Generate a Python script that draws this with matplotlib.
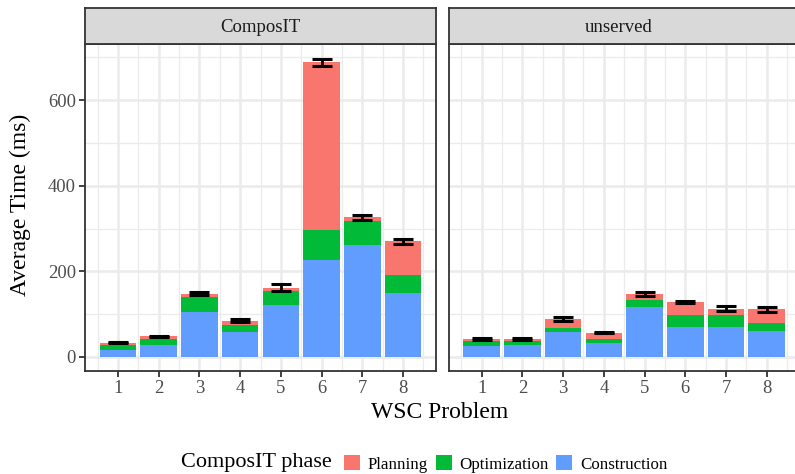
import numpy as np
import matplotlib.pyplot as plt
from matplotlib.patches import Patch

plt.rcParams['font.family'] = ['Liberation Serif', 'DejaVu Serif']

# --- data ---
problems = ['1', '2', '3', '4', '5', '6', '7', '8']
panels = ['ComposIT', 'unserved']
phases = ['Planning', 'Optimization', 'Construction']
colors = {'Planning': '#F8766D', 'Optimization': '#00BA38', 'Construction': '#619CFF'}

composit_construction = [17, 29, 104, 58, 121, 226, 261, 150]
composit_optimization = [12, 14, 35, 17.5, 32.5, 69.5, 55.5, 42.5]
composit_planning = [4, 5, 9, 9.5, 8.5, 392.5, 9.5, 77.5]
composit_err = [1, 1.2, 3.5, 2.8, 8, 7.5, 5.5, 6]

unserved_construction = [26, 29, 57.5, 33.5, 116, 71, 71, 61.5]
unserved_optimization = [10.5, 7.5, 11, 9.5, 16, 26.5, 26.5, 17]
unserved_planning = [6.5, 6.5, 21, 14, 14.5, 31.5, 15.5, 32.5]
unserved_err = [2.3, 2.3, 5, 1.6, 5, 2, 6, 6]

data = {
    'ComposIT': (composit_construction, composit_optimization, composit_planning, composit_err),
    'unserved': (unserved_construction, unserved_optimization, unserved_planning, unserved_err),
}

W, H = 795, 474
fig = plt.figure(figsize=(W / 100, H / 100), dpi=100)

def px(x0, y0, x1, y1):
    # pixel box (top-left origin) -> figure fraction rect
    return [x0 / W, 1 - y1 / H, (x1 - x0) / W, (y1 - y0) / H]

panel_x = [(85, 436), (448.7, 799.7)]
grid_col = '#EBEBEB'
frame_col = '#333333'

x = np.arange(1, len(problems) + 1)
for k, name in enumerate(panels):
    x0, x1 = panel_x[k]
    ax = fig.add_axes(px(x0, 44, x1, 371))
    cons, opt, plan, err = [np.array(v, dtype=float) for v in data[name]]

    # grid
    for gy in [100, 300, 500, 700]:
        ax.axhline(gy, color=grid_col, lw=0.9, zorder=0)
    for gy in [0, 200, 400, 600]:
        ax.axhline(gy, color=grid_col, lw=1.8, zorder=0)
    for gx in np.arange(0.5, 9, 1):
        ax.axvline(gx, color=grid_col, lw=0.9, zorder=0)
    for gx in x:
        ax.axvline(gx, color=grid_col, lw=1.8, zorder=0)

    ax.bar(x, cons, width=0.9, color=colors['Construction'], zorder=2)
    ax.bar(x, opt, width=0.9, bottom=cons, color=colors['Optimization'], zorder=2)
    ax.bar(x, plan, width=0.9, bottom=cons + opt, color=colors['Planning'], zorder=2)
    total = cons + opt + plan
    ax.errorbar(x, total, yerr=err, fmt='none', ecolor='black', elinewidth=2,
                capsize=7.2, capthick=2.2, zorder=3)

    ax.set_xlim(0.19, 8.81)
    ax.set_ylim(-32.7, 730.8)
    ax.set_xticks(x)
    ax.set_xticklabels(problems)
    ax.set_yticks([0, 200, 400, 600])
    for s in ax.spines.values():
        s.set_color(frame_col)
        s.set_linewidth(1.3)
    ax.tick_params(axis='both', colors=frame_col, labelcolor='#4D4D4D',
                   labelsize=13.4, length=4.5, width=1.3, pad=2)
    if k == 1:
        ax.tick_params(axis='y', left=False, labelleft=False)

    # facet strip
    sx = fig.add_axes(px(x0, 8.3, x1, 44))
    sx.set_facecolor('#D9D9D9')
    sx.set_xticks([])
    sx.set_yticks([])
    for s in sx.spines.values():
        s.set_color(frame_col)
        s.set_linewidth(1.3)
    sx.text(0.5 if k == 0 else 0.483, 0.45, name,
            transform=sx.transAxes, ha='center', va='center',
            fontsize=13.5, color='#1A1A1A')

fig.text(20 / W, 1 - 205 / H, 'Average Time (ms)', rotation=90,
         ha='center', va='center', fontsize=17)
fig.text(440 / W, 1 - 413 / H, 'WSC Problem', ha='center', va='center', fontsize=17)

# legend
fig.text(181 / W, 1 - 463 / H, 'ComposIT phase', ha='left', va='center', fontsize=16)
handles = [Patch(facecolor=colors[p], edgecolor='none', label=p) for p in phases]
fig.legend(handles=handles, loc='center left', bbox_to_anchor=(344 / W, 1 - 464 / H),
           ncol=3, frameon=False, fontsize=12.2, handlelength=0.95, handleheight=0.95,
           handletextpad=0.45, columnspacing=0.45, borderaxespad=0, borderpad=0)

fig.savefig('out.png', dpi=100)
